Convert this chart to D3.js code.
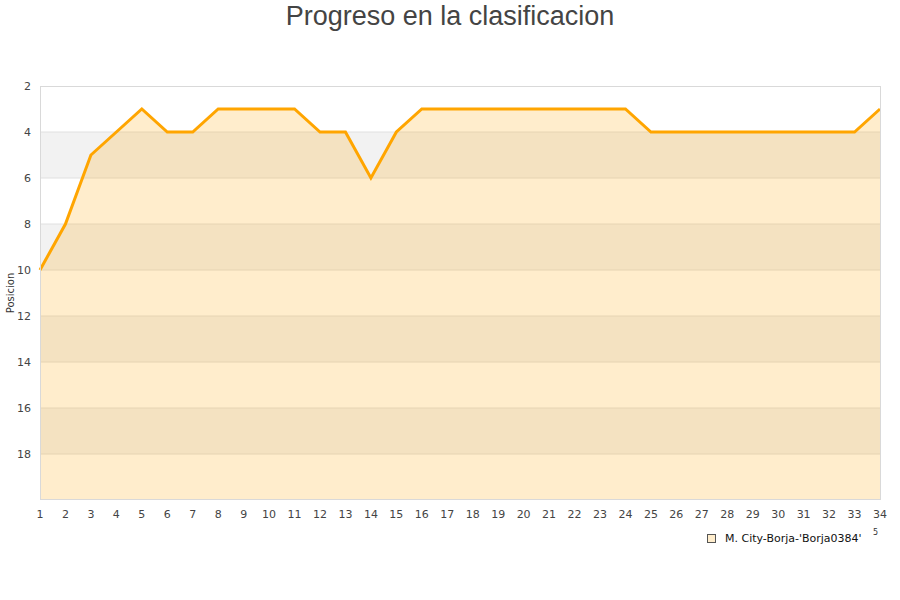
<!DOCTYPE html>
<html><head><meta charset="utf-8">
<script src="https://cdn.jsdelivr.net/npm/d3@7"></script>
<style>body{margin:0;background:#fff;} svg{display:block;}</style>
</head><body>
<svg id="c" width="900" height="600"></svg>
<script>
const title = "Progreso en la clasificacion";
const yLabel = "Posicion";
const seriesName = "M. City-Borja-'Borja0384'";
const jornadas = [1,2,3,4,5,6,7,8,9,10,11,12,13,14,15,16,17,18,19,20,21,22,23,24,25,26,27,28,29,30,31,32,33,34];
const posiciones = [10,8,5,4,3,4,4,3,3,3,3,4,4,6,4,3,3,3,3,3,3,3,3,3,4,4,4,4,4,4,4,4,4,3];
const yTicks = [2,4,6,8,10,12,14,16,18];
const yDomain = [2,20];

const svg = d3.select("#c");
const m = {l:40, r:20, t:86, b:100};
const W = 900, H = 600;
const x = d3.scaleLinear().domain([1,34]).range([m.l, W-m.r]);
const y = d3.scaleLinear().domain(yDomain).range([m.t, H-m.b]);

// bands
const bands = d3.range(yDomain[0], yDomain[1], 2);
svg.append("g").selectAll("rect").data(bands).join("rect")
  .attr("x", x(1)).attr("width", x(34)-x(1))
  .attr("y", d=>y(d)).attr("height", d=>y(d+2)-y(d))
  .attr("fill", (d,i)=> i%2===1 ? "#f2f2f2" : "#ffffff");

// grid
svg.append("g").selectAll("line").data(yTicks.slice(1)).join("line")
  .attr("x1", x(1)).attr("x2", x(34))
  .attr("y1", d=>y(d)).attr("y2", d=>y(d))
  .attr("stroke", "#e0e0e0").attr("stroke-width",1);

const data = jornadas.map((j,i)=>({j, p:posiciones[i]}));
svg.append("path").datum(data)
  .attr("d", d3.area().x(d=>x(d.j)).y0(y(yDomain[1])).y1(d=>y(d.p)))
  .attr("fill", "rgba(255,165,0,0.2)");
svg.append("path").datum(data)
  .attr("d", d3.line().x(d=>x(d.j)).y(d=>y(d.p)))
  .attr("fill","none").attr("stroke","#ffa500").attr("stroke-width",3).attr("stroke-linejoin","miter");

// frame
svg.append("rect").attr("x", x(1)+0.5).attr("y", y(2)+0.5)
  .attr("width", x(34)-x(1)).attr("height", y(20)-y(2)-1)
  .attr("fill","none").attr("stroke","#d9d9d9");

// y axis labels
svg.append("g").selectAll("text").data(yTicks).join("text")
  .attr("x", 31).attr("y", d=>y(d)).attr("dy","0.35em")
  .attr("text-anchor","end").attr("font-family","DejaVu Sans").attr("font-size",11).attr("fill","#444")
  .text(d=>d);
// x axis labels
svg.append("g").selectAll("text").data(jornadas).join("text")
  .attr("x", d=>x(d)).attr("y", 518)
  .attr("text-anchor","middle").attr("font-family","DejaVu Sans").attr("font-size",11).attr("fill","#444")
  .text(d=>d);

// y label
svg.append("text").attr("transform","translate(14,293) rotate(-90)")
  .attr("text-anchor","middle").attr("font-family","DejaVu Sans").attr("font-size",10).attr("fill","#333")
  .text(yLabel);

// title
svg.append("text").attr("x",450).attr("y",25).attr("text-anchor","middle")
  .attr("font-family","Liberation Sans, Arial").attr("font-size",27).attr("fill","#444").text(title);

// legend
svg.append("rect").attr("x",707.5).attr("y",534.5).attr("width",8).attr("height",8)
  .attr("fill","#ffedcc").attr("stroke","#555").attr("stroke-width",1);
svg.append("text").attr("x",725).attr("y",542).attr("font-family","DejaVu Sans").attr("font-size",11).attr("fill","#111").text(seriesName);
svg.append("text").attr("x",873).attr("y",535).attr("font-family","DejaVu Sans").attr("font-size",8).attr("fill","#333").text("5");
</script>
</body></html>
